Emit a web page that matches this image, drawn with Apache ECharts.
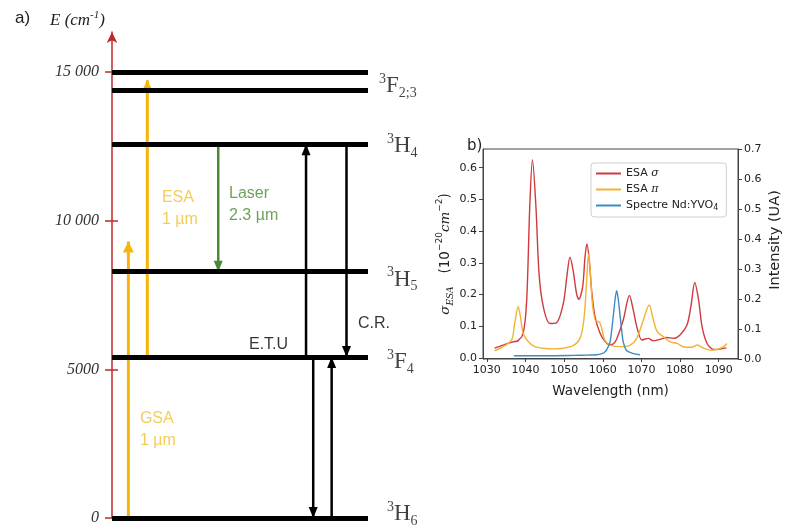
<!DOCTYPE html>
<html><head><meta charset="utf-8">
<script src="https://cdn.jsdelivr.net/npm/echarts@6/dist/echarts.min.js"></script>
<style>html,body{margin:0;padding:0;background:#fff}#c{width:786px;height:526px}</style>
</head><body><div id="c"></div>
<script>
// ---------- (a) energy level diagram ----------
const levelEnergies = [0, 5420, 8285, 12570, 14400, 15000];
const levelLabelTexts = ['{sup|3}{m|H}{sub|6}', '{sup|3}{m|F}{sub|4}', '{sup|3}{m|H}{sub|5}', '{sup|3}{m|H}{sub|4}', '{sup|3}{m|F}{sub|2;3}'];
const levelLabelEnergies = [0, 5420, 8285, 12570, 14700];
const energyTicks = [0, 5000, 10000, 15000];
const energyTickLabels = ['0', '5000', '10 000', '15 000'];

const transitionKinds = ['yellow', 'yellow', 'green', 'black', 'black', 'black', 'black'];
const transitionX = [6.4, 13.8, 41.5, 75.8, 91.6, 78.6, 85.8];
const transitionFrom = [0, 5420, 12570, 5420, 12570, 5420, 0];
const transitionTo = [9300, 14730, 8285, 12570, 5420, 0, 5420];

const annotationTexts = ['ESA\n1 µm', 'Laser\n2.3 µm', 'GSA\n1 µm', 'E.T.U', 'C.R.'];
const annotationKinds = ['yellowText', 'green', 'yellowText', 'black', 'black'];
const annotationX = [19.5, 45.7, 10.9, 53.5, 96.1];
const annotationE = [10400, 10560, 2960, 5850, 6525];

// ---------- (b) ESA spectra ----------
const wavelengthTicks = [1030, 1040, 1050, 1060, 1070, 1080, 1090];
const sigmaTicks = [0, 0.1, 0.2, 0.3, 0.4, 0.5, 0.6];
const seriesNames = ['ESA σ', 'ESA π', 'Spectre Nd:YVO4'];

const redX = [1032, 1034.2, 1036.8, 1038.1, 1039.4, 1040.3, 1041.1, 1041.8, 1042.7, 1043.5, 1044.6, 1046.3, 1048.0, 1049.8, 1050.8, 1051.5, 1052.3, 1053.2, 1053.8, 1054.8, 1055.4, 1055.9, 1056.5, 1057.1, 1058.0, 1059.3, 1060.6, 1061.8, 1062.8, 1063.6, 1065.3, 1066.9, 1067.9, 1068.8, 1070.1, 1071.0, 1071.8, 1073.1, 1074.8, 1076.6, 1078.3, 1080.0, 1081.8, 1082.8, 1083.8, 1084.8, 1085.7, 1087.0, 1088.7, 1090.4, 1092.0];
const redY = [0.031, 0.041, 0.051, 0.055, 0.078, 0.18, 0.477, 0.625, 0.477, 0.267, 0.162, 0.109, 0.111, 0.173, 0.267, 0.318, 0.278, 0.204, 0.185, 0.225, 0.318, 0.36, 0.309, 0.215, 0.13, 0.078, 0.052, 0.042, 0.045, 0.06, 0.12, 0.197, 0.151, 0.099, 0.057, 0.060, 0.062, 0.054, 0.059, 0.065, 0.062, 0.073, 0.104, 0.162, 0.238, 0.183, 0.099, 0.046, 0.027, 0.028, 0.032];

const yellowX = [1032, 1034.2, 1036.4, 1037.2, 1038.1, 1038.7, 1039.4, 1040.7, 1042.4, 1044.6, 1047.2, 1049.8, 1052.3, 1054.1, 1055.1, 1055.8, 1056.3, 1056.8, 1057.4, 1058.3, 1058.9, 1059.6, 1060.5, 1061.9, 1064.5, 1067.1, 1068.8, 1070.5, 1072.0, 1073.1, 1074.1, 1075.7, 1077.4, 1079.2, 1081.3, 1082.9, 1084.5, 1086.1, 1087.8, 1089.5, 1091.3, 1092.1];
const yellowY = [0.023, 0.036, 0.057, 0.109, 0.162, 0.13, 0.078, 0.052, 0.036, 0.031, 0.029, 0.031, 0.039, 0.062, 0.12, 0.236, 0.328, 0.267, 0.162, 0.115, 0.115, 0.099, 0.057, 0.041, 0.036, 0.041, 0.062, 0.12, 0.167, 0.12, 0.083, 0.067, 0.051, 0.046, 0.034, 0.034, 0.041, 0.031, 0.025, 0.027, 0.036, 0.046];

const blueX = [1037, 1045, 1052.3, 1056, 1058.4, 1059.8, 1060.6, 1061.3, 1061.9, 1062.3, 1062.7, 1063.2, 1063.6, 1064.0, 1064.5, 1064.9, 1065.2, 1065.7, 1066.2, 1067.9, 1069.6];
const blueY = [0.011, 0.011, 0.012, 0.013, 0.014, 0.018, 0.024, 0.038, 0.058, 0.095, 0.141, 0.2, 0.228, 0.2, 0.141, 0.095, 0.063, 0.04, 0.028, 0.018, 0.014];

// ---------- styles ----------
const COLORS = { yellow: '#f5b50a', yellowText: '#f2bf2c', green: '#4a8a35', black: '#000', axisRed: '#c0282d' };
const ARROW_WIDTH = { yellow: 3, green: 2.5, black: 2.5 };
const ARROW_HEAD = { yellow: [11, 11], green: [9, 11], black: [9, 11] };
const LINE_COLORS = ['#d0393e', '#f2b233', '#3a8cc2'];
const SERIF = '"Liberation Serif", "DejaVu Serif", serif';
const SANS = '"Liberation Sans", Arial, sans-serif';
const MPL = '"DejaVu Sans", sans-serif';
const levelLabelOffsets = [[0, -4], [0, 5], [0, 8], [0, 2], [0, 5]];
const levelLabelDistances = [19, 19, 19, 19, 11];

const zip = (xs, ys) => xs.map((x, i) => [x, ys[i]]);
const noComma = v => String(v);

const arrowSeries = transitionKinds.map((kind, i) => {
  const up = transitionTo[i] > transitionFrom[i];
  const head = ARROW_HEAD[kind];
  return {
    type: 'line', xAxisIndex: 0, yAxisIndex: 0, silent: true, z: 2,
    lineStyle: { color: COLORS[kind], width: ARROW_WIDTH[kind] },
    itemStyle: { color: COLORS[kind] },
    showSymbol: true, symbolKeepAspect: false,
    data: [
      { value: [transitionX[i], transitionFrom[i]], symbol: 'none' },
      { value: [transitionX[i], transitionTo[i]], symbol: 'triangle', symbolSize: head,
        symbolRotate: up ? 0 : 180, symbolOffset: [0, up ? head[1] / 2 : -head[1] / 2] }
    ]
  };
});

const levelLines = levelEnergies.map(E => [{ coord: [0, E] }, { coord: [100, E] }]);

const option = {
  animation: false,
  backgroundColor: '#fff',
  title: [
    { text: 'a)', left: 10, top: 5, textStyle: { fontFamily: SANS, fontSize: 17, fontWeight: 'normal', color: '#222' } },
    { text: '{e|E (cm}{s|-1}{e|)}', left: 45, top: 5, textStyle: { fontWeight: 'normal', rich: {
        e: { fontFamily: SERIF, fontStyle: 'italic', fontWeight: 'normal', fontSize: 17, color: '#222', lineHeight: 22 },
        s: { fontFamily: SERIF, fontStyle: 'italic', fontWeight: 'normal', fontSize: 11, color: '#222', verticalAlign: 'top', lineHeight: 12 } } } },
    { text: 'b)', left: 462, top: 134, textStyle: { fontFamily: MPL, fontSize: 15, fontWeight: 'normal', color: '#222' } }
  ],
  legend: {
    data: seriesNames, orient: 'vertical', left: 591, top: 163, icon: 'rect',
    itemWidth: 25, itemHeight: 2, itemGap: 5,
    borderColor: '#cfcfcf', borderWidth: 1, borderRadius: 3, padding: [5, 8, 5, 5],
    textStyle: { fontFamily: MPL, fontSize: 11, color: '#222', rich: {
      a: { fontFamily: MPL, fontSize: 11, color: '#222', lineHeight: 13 },
      i: { fontFamily: 'DejaVu Serif', fontStyle: 'italic', fontSize: 11, color: '#222', lineHeight: 13 },
      sub: { fontFamily: MPL, fontSize: 8, color: '#222', verticalAlign: 'bottom', lineHeight: 8 } } },
    formatter: n => n === 'ESA σ' ? '{a|ESA }{i|σ}' : n === 'ESA π' ? '{a|ESA }{i|π}' : '{a|Spectre Nd:YVO}{sub|4}'
  },
  grid: [
    { left: 112, right: 418, top: 32, bottom: 8, show: false },
    { left: 483, right: 48, top: 149, bottom: 167, show: true, borderColor: '#444', borderWidth: 1 }
  ],
  xAxis: [
    { gridIndex: 0, type: 'value', min: 0, max: 100, show: false },
    { gridIndex: 1, type: 'value', min: 1029, max: 1095,
      name: 'Wavelength (nm)', nameLocation: 'middle', nameGap: 25,
      nameTextStyle: { fontFamily: MPL, fontSize: 13.5, color: '#222' },
      axisLine: { lineStyle: { color: '#444', width: 1 } },
      axisTick: { length: 4, lineStyle: { color: '#444' }, customValues: wavelengthTicks },
      axisLabel: { fontFamily: MPL, fontSize: 11, color: '#222', margin: 6, customValues: wavelengthTicks, formatter: noComma },
      splitLine: { show: false } }
  ],
  yAxis: [
    { gridIndex: 0, type: 'value', min: 0, max: 16350, position: 'left',
      axisLine: { show: true, lineStyle: { color: COLORS.axisRed, width: 1.5 }, symbol: ['none', 'arrow'], symbolSize: [8, 11] },
      axisTick: { show: true, length: 7, lineStyle: { color: COLORS.axisRed, width: 1.5 }, customValues: energyTicks },
      axisLabel: { fontFamily: SERIF, fontStyle: 'italic', fontSize: 16, color: '#333', margin: 13,
        customValues: energyTicks, formatter: v => energyTickLabels[energyTicks.indexOf(v)] },
      splitLine: { show: false } },
    { gridIndex: 0, type: 'value', min: 0, max: 16350, position: 'left', offset: 0,
      axisLine: { show: false }, axisLabel: { show: false },
      axisTick: { show: true, inside: true, length: 6, lineStyle: { color: COLORS.axisRed, width: 1.5 }, customValues: energyTicks.slice(1) },
      splitLine: { show: false } },
    { gridIndex: 1, type: 'value', min: -0.003, max: 0.659, position: 'left',
      name: '{t|σ}{s|ESA}{n|   (10}{p|−20}{it|cm}{p|−2}{n|)}',
      nameLocation: 'middle', nameGap: 26, nameRotate: 90,
      nameTextStyle: { rich: {
        t: { fontFamily: 'DejaVu Serif', fontStyle: 'italic', fontSize: 13.5, color: '#222', lineHeight: 20 },
        n: { fontFamily: MPL, fontSize: 13.5, color: '#222', lineHeight: 20 },
        it: { fontFamily: 'DejaVu Serif', fontStyle: 'italic', fontSize: 13.5, color: '#222', lineHeight: 20 },
        s: { fontFamily: 'DejaVu Serif', fontStyle: 'italic', fontSize: 9, color: '#222', verticalAlign: 'bottom', lineHeight: 12 },
        p: { fontFamily: MPL, fontSize: 9, color: '#222', verticalAlign: 'top', lineHeight: 10 } } },
      axisLine: { show: true, lineStyle: { color: '#444', width: 1 } },
      axisTick: { length: 4, lineStyle: { color: '#444' }, customValues: sigmaTicks },
      axisLabel: { fontFamily: MPL, fontSize: 11, color: '#222', margin: 6, customValues: sigmaTicks, formatter: v => v.toFixed(1) },
      splitLine: { show: false } },
    { gridIndex: 1, type: 'value', position: 'right', min: 0, max: 0.7, interval: 0.1,
      name: 'Intensity (UA)', nameLocation: 'middle', nameGap: 30, nameRotate: 90,
      nameTextStyle: { fontFamily: MPL, fontSize: 14.5, color: '#222', padding: [0, 0, 0, 28] },
      axisLine: { show: true, lineStyle: { color: '#444', width: 1 } },
      axisTick: { length: 4, lineStyle: { color: '#444' } },
      axisLabel: { fontFamily: MPL, fontSize: 11, color: '#222', margin: 6, formatter: v => v.toFixed(1) },
      splitLine: { show: false } }
  ],
  series: [
    { type: 'scatter', xAxisIndex: 0, yAxisIndex: 0, data: [], silent: true, z: 3,
      markLine: { silent: true, animation: false, symbol: ['none', 'none'], label: { show: false },
        lineStyle: { color: '#000', width: 5, type: 'solid' }, emphasis: { disabled: true }, data: levelLines } },
    ...arrowSeries,
    { type: 'scatter', xAxisIndex: 0, yAxisIndex: 0, silent: true, symbolSize: 0, clip: false,
      data: levelLabelEnergies.map((E, i) => ({ value: [100, E],
        label: { show: true, position: 'right', distance: levelLabelDistances[i], offset: levelLabelOffsets[i],
          formatter: () => levelLabelTexts[i],
          rich: {
            sup: { fontFamily: SERIF, fontSize: 14, color: '#111', verticalAlign: 'top', lineHeight: 14 },
            m: { fontFamily: SERIF, fontSize: 23, color: '#111', lineHeight: 28 },
            sub: { fontFamily: SERIF, fontSize: 14, color: '#111', verticalAlign: 'bottom', lineHeight: 18 } } } })) },
    { type: 'scatter', xAxisIndex: 0, yAxisIndex: 0, silent: true, symbolSize: 0, clip: false,
      data: annotationTexts.map((t, i) => ({ value: [annotationX[i], annotationE[i]],
        label: { show: true, position: 'right', distance: 0, formatter: () => t,
          fontFamily: SANS, fontSize: 16, lineHeight: 22, color: COLORS[annotationKinds[i]] } })) },
    { name: seriesNames[0], type: 'line', xAxisIndex: 1, yAxisIndex: 2, data: zip(redX, redY),
      symbol: 'none', smooth: 0.3, lineStyle: { color: LINE_COLORS[0], width: 1.4 }, itemStyle: { color: LINE_COLORS[0] } },
    { name: seriesNames[1], type: 'line', xAxisIndex: 1, yAxisIndex: 2, data: zip(yellowX, yellowY),
      symbol: 'none', smooth: 0.3, lineStyle: { color: LINE_COLORS[1], width: 1.4 }, itemStyle: { color: LINE_COLORS[1] } },
    { name: seriesNames[2], type: 'line', xAxisIndex: 1, yAxisIndex: 3, data: zip(blueX, blueY),
      symbol: 'none', smooth: 0.3, lineStyle: { color: LINE_COLORS[2], width: 1.4 }, itemStyle: { color: LINE_COLORS[2] } }
  ]
};

const chart = echarts.init(document.getElementById('c'), null, { renderer: 'canvas' });
chart.setOption(option);
</script>
</body></html>
